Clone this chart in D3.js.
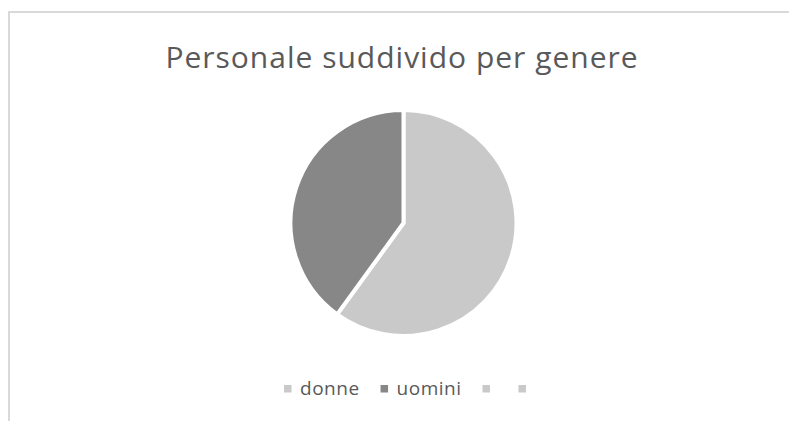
<!DOCTYPE html>
<html>
<head>
<meta charset="utf-8">
<script src="https://cdn.jsdelivr.net/npm/d3@7"></script>
<style>
  body { margin: 0; background: #fff; }
  svg { display: block; }
</style>
</head>
<body>
<svg width="789" height="421"></svg>
<script>
// dati del grafico
var title = "Personale suddivido per genere";
var categories = ["donne", "uomini", "", ""];
var values = [60, 40, 0, 0];
var colors = ["#c9c9c9", "#878787", "#c9c9c9", "#c9c9c9"];

var svg = d3.select("svg");
var font = "'Open Sans', 'Liberation Sans', sans-serif";

// cornice del grafico (il bordo destro e quello in basso escono dalla pagina)
svg.append("rect")
  .attr("x", 9)
  .attr("y", 12)
  .attr("width", 820)
  .attr("height", 500)
  .attr("fill", "#fff")
  .attr("stroke", "#d9d9d9")
  .attr("stroke-width", 2);

svg.append("text")
  .attr("x", 402)
  .attr("y", 68)
  .attr("text-anchor", "middle")
  .attr("font-family", font)
  .attr("font-size", 30)
  .attr("letter-spacing", 1)
  .attr("fill", "#595959")
  .text(title);

var pieData = d3.pie().sort(null).value(function(d){ return d.value; })(
  categories.map(function(c, i){ return {name: c, value: values[i], color: colors[i]}; })
);

var arc = d3.arc().innerRadius(0).outerRadius(113);

svg.append("g")
  .attr("transform", "translate(403.5,223)")
  .selectAll("path")
  .data(pieData.filter(function(d){ return d.data.value > 0; }))
  .enter()
  .append("path")
  .attr("d", arc)
  .attr("fill", function(d){ return d.data.color; })
  .attr("stroke", "#fff")
  .attr("stroke-width", 4)
  .attr("stroke-linejoin", "miter");

// legenda
var legend = svg.append("g");
var x = 0;
categories.forEach(function(c, i){
  var item = legend.append("g").attr("transform", "translate(" + x + ",0)");
  item.append("rect")
    .attr("x", 0)
    .attr("y", -4)
    .attr("width", 7.5)
    .attr("height", 7.5)
    .attr("fill", colors[i]);
  var t = item.append("text")
    .attr("x", 16)
    .attr("y", 6)
    .attr("font-family", font)
    .attr("font-size", 19)
    .attr("letter-spacing", 0.5)
    .attr("fill", "#595959")
    .text(c);
  var w = c ? t.node().getComputedTextLength() : 0;
  x += 16 + w + (c ? 21 : 20);
});
var legendWidth = x - 20 - 16 + 7.5;
legend.attr("transform", "translate(" + (405 - legendWidth / 2) + ",389)");
</script>
</body>
</html>
